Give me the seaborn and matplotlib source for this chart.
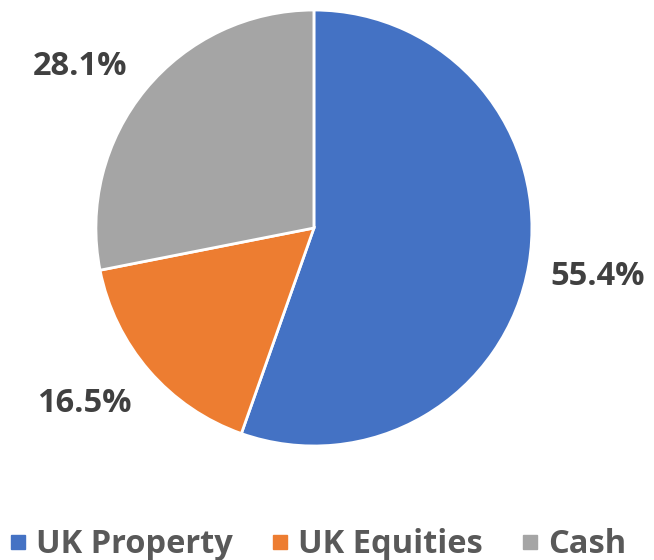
import matplotlib.pyplot as plt
from matplotlib.lines import Line2D
import seaborn as sns

categories = ['UK Property', 'UK Equities', 'Cash']
shares = [55.4, 16.5, 28.1]
colors = ['#4472C4', '#ED7D31', '#A5A5A5']

sns.set_theme(style='white')
plt.rcParams['font.family'] = ['Open Sans', 'DejaVu Sans']

palette = sns.color_palette(colors)

fig = plt.figure(figsize=(6.54, 5.6), dpi=100)
ax = fig.add_axes([0, 0, 1, 1])

wedges, texts, autotexts = ax.pie(
    shares, colors=palette, startangle=90, counterclock=False,
    autopct='%.1f%%', pctdistance=1.32, radius=1.0,
    wedgeprops=dict(edgecolor='white', linewidth=2),
    textprops=dict(fontsize=23.5, fontweight='bold', color='#404040'),
)
# the cash and equities labels sit where the original put them
autotexts[2].set_position((-1.073, 0.743))
autotexts[1].set_position((-1.055, -0.803))

ax.set_xlim(-1.440, 1.560)
ax.set_ylim(-1.523, 1.046)
ax.set_aspect('equal', adjustable='datalim')
ax.axis('off')

handles = [Line2D([], [], marker='s', linestyle='', markersize=9.5,
                  markerfacecolor=c, markeredgecolor=c) for c in palette]
leg = fig.legend(handles, categories, loc='center', bbox_to_anchor=(0.487, 0.027),
                 ncol=3, frameon=False, handlelength=0.45, handletextpad=0.35,
                 columnspacing=1.2, prop=dict(size=23.5, weight='bold'))
for t in leg.get_texts():
    t.set_color('#595959')

fig.savefig('out.png', dpi=100)
